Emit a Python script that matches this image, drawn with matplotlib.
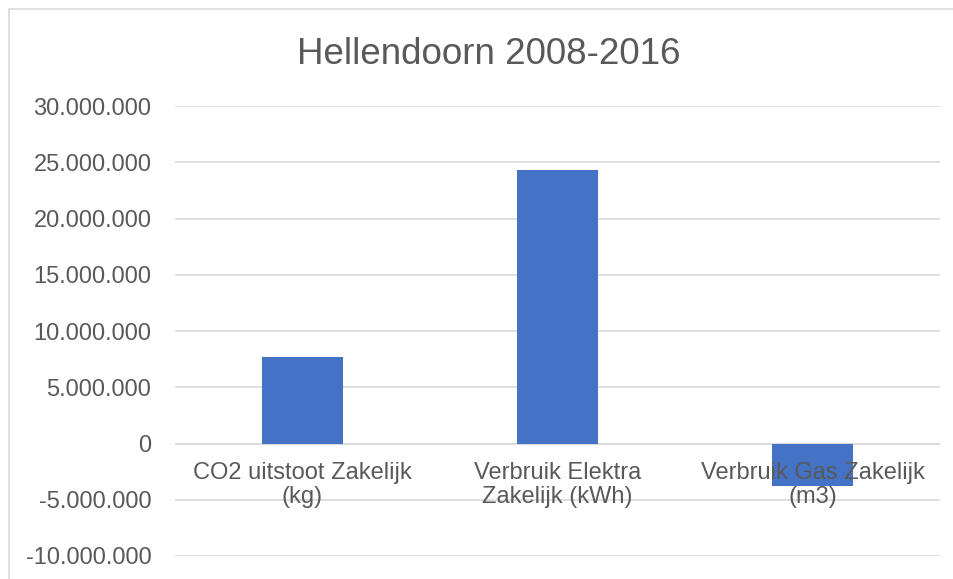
import matplotlib.pyplot as plt
from matplotlib.patches import Rectangle
from matplotlib.ticker import FuncFormatter

plt.rcParams['font.family'] = ['Liberation Sans', 'DejaVu Sans']

categories = ["CO2 uitstoot Zakelijk\n(kg)", "Verbruik Elektra\nZakelijk (kWh)", "Verbruik Gas Zakelijk\n(m3)"]
values = [7650000, 24350000, -3800000]
yticks = [-10000000, -5000000, 0, 5000000, 10000000, 15000000, 20000000, 25000000, 30000000]

W, H = 954, 579
fig = plt.figure(figsize=(W / 100, H / 100), dpi=100)

# chart frame (cut off on right/bottom like the screenshot)
fig.patches.append(Rectangle((9 / W, -0.1), 1.2, (H - 9) / H + 0.1, transform=fig.transFigure,
                             fill=False, edgecolor="#d9d9d9", linewidth=1.2))

ax = fig.add_axes([175 / W, (H - 556) / H, (940 - 175) / W, (556 - 106) / H])
ax.bar(range(3), values, width=0.315, color="#4472c4", zorder=2)

ax.set_xlim(-0.5, 2.5)
ax.set_ylim(-10000000, 30000000)
ax.set_yticks(yticks)
ax.yaxis.set_major_formatter(FuncFormatter(lambda v, p: f"{int(v):,}".replace(",", ".")))
ax.grid(axis="y", color="#d9d9d9", linewidth=1.2, zorder=0)
ax.axhline(0, color="#d9d9d9", linewidth=1.2, zorder=1)

for s in ax.spines.values():
    s.set_visible(False)
ax.tick_params(axis="y", length=0, pad=17, labelsize=17, labelcolor="#595959")

ax.set_xticks([])
for i, c in enumerate(categories):
    ax.annotate(c, (i, 0), xytext=(0, -13), textcoords="offset points", ha="center", va="top",
                fontsize=17, color="#595959", linespacing=1.15, zorder=3)

fig.text(489 / W, (H - 55) / H, "Hellendoorn 2008-2016", ha="center", va="center",
         fontsize=26.5, color="#595959")

fig.savefig("out.png", dpi=100)
